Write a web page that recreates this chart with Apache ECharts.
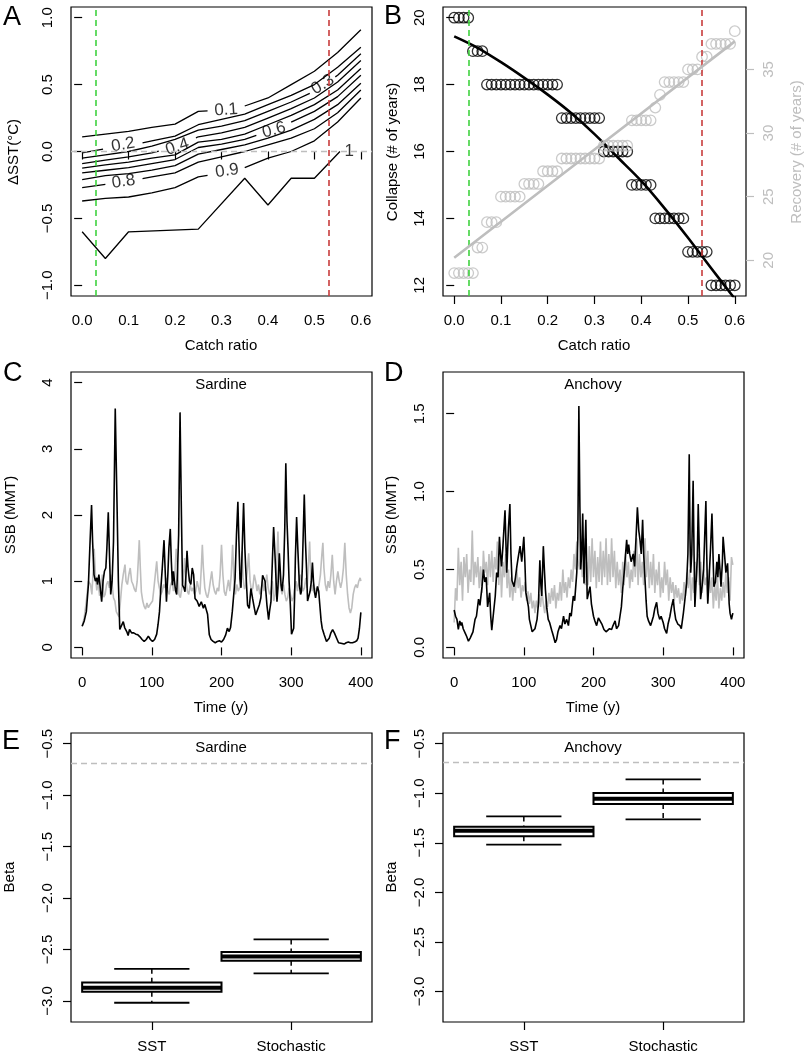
<!DOCTYPE html>
<html><head><meta charset="utf-8">
<script src="https://cdn.jsdelivr.net/npm/echarts/dist/echarts.min.js"></script>
<style>html,body{margin:0;padding:0;background:#fff}#c{width:807px;height:1059px}</style>
</head><body><div id="c"></div>
<script>
// ---------------- DATA ----------------
// Panel A: contour lines of collapse probability (x = catch ratio, y = ΔSST), '-' = gap for inline label
const contour01 = [[0,0.11],[0.05,0.13],[0.1,0.15],[0.15,0.18],[0.2,0.205],[0.25,0.30],[0.27,0.303],'-',[0.35,0.34],[0.4,0.40],[0.45,0.50],[0.5,0.60],[0.55,0.74],[0.6,0.91]];
const contour02 = [[0,-0.01],[0.045,0.017],'-',[0.13,0.065],[0.15,0.08],[0.2,0.115],[0.25,0.20],[0.3,0.24],[0.35,0.28],[0.4,0.35],[0.45,0.42],[0.5,0.50],[0.55,0.63],[0.6,0.78]];
const contour03 = [[0,-0.05],[0.05,-0.025],[0.1,0.0],[0.15,0.04],[0.2,0.09],[0.25,0.16],[0.3,0.19],[0.35,0.23],[0.4,0.30],[0.45,0.37],[0.49,0.434],'-',[0.545,0.558],[0.55,0.57],[0.6,0.73]];
const contour04 = [[0,-0.09],[0.05,-0.065],[0.1,-0.04],[0.15,-0.01],[0.165,0.002],'-',[0.245,0.102],[0.25,0.11],[0.3,0.14],[0.35,0.18],[0.4,0.25],[0.45,0.32],[0.5,0.40],[0.55,0.52],[0.6,0.68]];
const contour05 = [[0,-0.125],[0.05,-0.10],[0.1,-0.08],[0.15,-0.05],[0.2,-0.025],[0.25,0.07],[0.3,0.09],[0.35,0.13],[0.4,0.20],[0.45,0.27],[0.5,0.35],[0.55,0.46],[0.6,0.62]];
const contour06 = [[0,-0.16],[0.05,-0.14],[0.1,-0.12],[0.15,-0.09],[0.2,-0.06],[0.25,0.03],[0.3,0.055],[0.35,0.09],[0.375,0.12],'-',[0.45,0.22],[0.5,0.30],[0.55,0.41],[0.6,0.57]];
const contour07 = [[0,-0.21],[0.05,-0.18],[0.1,-0.165],[0.15,-0.14],[0.2,-0.105],[0.25,-0.02],[0.3,0.015],[0.35,0.05],[0.4,0.10],[0.45,0.16],[0.5,0.24],[0.55,0.35],[0.6,0.51]];
const contour08 = [[0,-0.27],[0.05,-0.245],'-',[0.13,-0.202],[0.15,-0.19],[0.2,-0.16],[0.25,-0.08],[0.3,-0.04],[0.35,0.0],[0.4,0.05],[0.45,0.10],[0.5,0.17],[0.55,0.29],[0.6,0.46]];
const contour09 = [[0,-0.37],[0.05,-0.35],[0.1,-0.34],[0.15,-0.31],[0.2,-0.27],[0.25,-0.19],[0.27,-0.178],'-',[0.35,-0.12],[0.4,-0.05],[0.45,0.0],[0.5,0.08],[0.55,0.22],[0.6,0.40]];
const contour10 = [[0,-0.6],[0.05,-0.8],[0.1,-0.6],[0.25,-0.58],[0.35,-0.2],[0.4,-0.4],[0.45,-0.2],[0.5,-0.2],[0.555,0.0]];
// contour labels: text, x, y, rotation(deg)
const contourLabelText = ['0.1','0.2','0.3','0.4','0.6','0.8','0.9','1'];
const contourLabelX    = [0.31, 0.088, 0.518, 0.205, 0.413, 0.089, 0.312, 0.575];
const contourLabelY    = [0.31, 0.05, 0.50, 0.035, 0.16, -0.225, -0.145, 0.0];
const contourLabelRot  = [4, 10, 32, 18, 15, 8, 8, 0];
const catchLow = 0.027, catchHigh = 0.531;

// Panel B
const collapseYears = [20,20,20,20,19,19,19,
  18,18,18,18,18,18,18,18,18,18,18,18,18,18,18,18,
  17,17,17,17,17,17,17,17,17,
  16,16,16,16,16,16,
  15,15,15,15,15,
  14,14,14,14,14,14,14,
  13,13,13,13,13,
  12,12,12,12,12,12];
const recoveryYears = [19,19,19,19,19,21,21,23,23,23,25,25,25,25,25,26,26,26,26,27,27,27,27,
  28,28,28,28,28,28,28,28,28,29,29,29,29,29,29,31,31,31,31,31,32,33,34,34,34,34,34,35,35,35,36,36,37,37,37,37,37,38];
const collapseFit = [[0,19.44],[0.05,19.1],[0.1,18.67],[0.15,18.2],[0.2,17.7],[0.25,17.15],[0.3,16.52],[0.35,15.82],[0.4,15.12],[0.45,14.3],[0.5,13.42],[0.55,12.5],[0.6,11.6]];
const recoveryFit = [[0,20.2],[0.3,28.7],[0.6,37.2]];

// Panel C: Sardine SSB
const sardineSST = [[0,0.32],[3,0.4],[6,0.54],[9,0.95],[11,1.5],[13.5,2.15],[15,1.6],[17,1.1],[19,1.0],[21,1.05],[22,0.95],[24,1.1],[26,0.9],[28,0.69],[30,1.0],[32,1.15],[34,1.2],[35.5,1.5],[37.5,2.04],[39.5,1.3],[41,0.8],[43,1.0],[45,1.6],[47.5,3.61],[50,2.2],[52,1.0],[54,0.27],[56,0.3],[59,0.39],[61,0.3],[64,0.24],[66,0.18],[68,0.27],[71,0.22],[74,0.22],[77,0.2],[80,0.19],[83,0.16],[86,0.12],[89,0.09],[92,0.12],[95,0.17],[98,0.12],[101,0.09],[104,0.12],[107,0.2],[109,0.35],[111,0.54],[113,0.9],[115,1.2],[117.5,1.62],[119,1.2],[121,0.69],[123,1.1],[124.5,1.5],[126.5,1.79],[128,1.3],[129.5,0.94],[131,1.15],[132.5,1.0],[134,0.86],[135.7,0.8],[137,1.2],[138.5,1.7],[140.5,3.55],[142.5,2.0],[144,0.94],[146,0.9],[147.6,0.84],[149,1.1],[150.5,1.46],[152,1.2],[154,1.0],[156,0.95],[158,1.2],[160,1.1],[162,0.74],[165,0.7],[168,0.62],[171,0.69],[174,0.59],[176,0.65],[178.5,0.64],[180,0.5],[182.5,0.19],[185,0.12],[188,0.09],[191,0.07],[194,0.09],[197,0.1],[200,0.08],[203,0.12],[206,0.19],[208.5,0.29],[211,0.24],[213,0.3],[215.5,0.54],[219.5,1.04],[221.5,1.7],[223.5,2.2],[225,1.6],[226.5,1.04],[228,0.9],[230,1.6],[231.7,2.18],[233.5,1.5],[235,1.14],[237.4,0.64],[239.8,0.59],[242.2,0.89],[244.6,0.74],[247,0.6],[249,0.49],[251.8,0.52],[254.2,0.64],[256.5,0.75],[259,1.09],[261,1.1],[262.5,1.0],[265.2,0.64],[267.6,0.42],[269,0.55],[271,0.69],[273,1.3],[274.8,1.82],[277,1.34],[279.6,0.69],[281,0.9],[283,1.42],[285.5,0.94],[287,0.85],[289,1.1],[290.8,1.8],[292.3,2.78],[294,1.9],[295.5,1.49],[297,1.0],[298.8,0.64],[300.5,0.2],[301.5,0.17],[303.6,0.29],[305,0.8],[306,1.34],[307.8,1.97],[309.5,1.5],[311.8,0.94],[313.5,0.8],[314.6,0.84],[316,1.2],[318.8,2.31],[320.5,1.6],[322,1.19],[323.5,0.7],[325,0.69],[327,0.84],[329,1.0],[330.5,1.28],[332,1.0],[333.4,0.84],[335,0.75],[337.7,0.92],[339.5,0.85],[341.1,0.64],[343,0.4],[344.5,0.29],[347.4,0.19],[350.7,0.09],[352.5,0.1],[354.6,0.14],[357,0.22],[359.5,0.27],[362,0.22],[364,0.19],[366,0.12],[368,0.07],[370,0.05],[373,0.06],[376,0.05],[379,0.07],[382,0.08],[385,0.07],[388,0.07],[391,0.08],[394,0.1],[396,0.14],[398,0.29],[400,0.53]];
const sardineStochastic = [[0,0.32],[3,0.45],[6,0.7],[9,1.0],[12,0.95],[14,0.8],[16,1.2],[17.3,1.49],[19,1.1],[21,0.86],[23,1.0],[25,0.78],[27,0.9],[29,1.1],[31,0.76],[33,0.8],[35,0.95],[37,1.0],[39,0.9],[41,1.1],[43,0.95],[45,0.75],[47,0.7],[49,0.54],[51,0.5],[53,0.46],[55,0.7],[57,0.95],[59,1.1],[61.5,1.25],[63,1.0],[65,0.95],[67,1.1],[69,1.2],[71,1.0],[73,0.95],[75,0.88],[77,0.84],[79,1.0],[80.5,1.3],[82,1.62],[83.5,1.2],[85,0.84],[87,0.7],[89,0.62],[91,0.58],[93,0.67],[95,0.6],[97,0.64],[99,0.62],[101,0.7],[103,0.89],[105,1.1],[107,1.3],[109,1.0],[111,0.89],[113,0.8],[115,0.85],[117,0.95],[119,0.9],[121,1.05],[123,0.85],[125,0.8],[127,0.95],[129,1.0],[131,0.85],[133,1.1],[135,1.49],[137,1.2],[139,0.8],[141,0.75],[143,0.9],[145,1.0],[147,1.35],[149,1.0],[151,0.85],[153,0.8],[155,0.95],[157,0.85],[159,0.9],[161,0.8],[163,0.85],[165,1.0],[167,0.9],[169,0.8],[171,1.2],[172.5,1.55],[174,1.2],[176,0.9],[178,0.8],[180,0.75],[182,0.85],[184,1.0],[186,1.15],[188,0.95],[190,0.85],[192,0.8],[194,0.9],[196,0.85],[198,1.1],[200,1.55],[202,1.1],[204,0.84],[206,0.78],[208,0.9],[210,1.02],[212,0.85],[214,1.1],[216,1.55],[218,1.0],[220,0.8],[222,0.95],[224,0.85],[226,0.9],[228,1.2],[229.5,1.45],[231,1.05],[233,0.88],[235,0.95],[237,1.15],[239,1.42],[241,1.0],[243,0.85],[245,0.9],[247,1.1],[249,1.0],[251,0.85],[253,0.95],[255,0.8],[257,0.9],[259,1.0],[261,0.85],[263,0.95],[265,1.1],[267,0.9],[269,0.8],[271,0.85],[273,1.0],[275,0.7],[277,0.8],[279,1.2],[281,1.75],[283,1.1],[285,0.9],[287,0.8],[289,0.95],[291,0.8],[293,0.7],[295,0.75],[297,0.9],[299,0.8],[301,0.7],[303,0.75],[305,0.9],[307,1.0],[309,0.85],[311,1.0],[313,1.1],[315,0.95],[317,0.85],[319,0.9],[321,1.05],[323,0.9],[325,1.3],[326.5,1.6],[328,1.1],[330,0.85],[332,0.95],[334,0.8],[336,0.9],[338,0.85],[340,0.95],[342,1.1],[344,1.4],[345.5,1.58],[347,1.2],[349,0.95],[351,0.85],[353,1.0],[355,0.9],[357,1.1],[359,1.4],[361,1.0],[363,0.8],[365,1.0],[367,1.15],[369,1.0],[371,0.9],[373,1.0],[375,1.2],[377,1.58],[379,1.1],[381,0.8],[383,0.6],[385,0.52],[387,0.6],[389,0.8],[391,0.9],[393,0.95],[395,0.9],[397,1.0],[399,1.05],[400,1.0]];

// Panel D: Anchovy SSB
const anchovySST = [[0,0.24],[2,0.2],[4,0.18],[6,0.115],[8,0.17],[10,0.14],[11,0.16],[13,0.12],[16,0.09],[18,0.07],[20.5,0.04],[23,0.06],[25,0.07],[27,0.1],[30,0.18],[32,0.2],[35,0.31],[37,0.27],[40,0.39],[42,0.5],[44,0.42],[46,0.45],[48,0.26],[51,0.35],[52.5,0.2],[54,0.11],[56,0.2],[59,0.33],[61,0.48],[63,0.45],[65,0.71],[66.5,0.6],[68,0.52],[70,0.65],[73,0.88],[75.5,0.48],[78,0.77],[80,0.92],[81.5,0.6],[83,0.43],[86,0.39],[88,0.45],[90,0.52],[92,0.58],[94.6,0.65],[97,0.55],[100,0.71],[101.5,0.55],[103,0.35],[105,0.3],[106.6,0.26],[108,0.18],[110,0.14],[112,0.1],[114,0.09],[116,0.12],[117.6,0.11],[119,0.18],[121,0.28],[123,0.56],[124.5,0.4],[125.7,0.33],[128,0.65],[129.5,0.5],[131,0.37],[133,0.25],[135,0.18],[137,0.16],[140,0.11],[142,0.08],[145,0.03],[147,0.05],[149,0.1],[152,0.14],[154,0.12],[157,0.2],[159,0.15],[161.5,0.18],[164,0.14],[166,0.22],[168,0.2],[171,0.33],[173,0.3],[176,0.48],[177.5,0.7],[179,1.55],[180.5,0.9],[181.6,0.5],[183,0.6],[184.5,0.86],[186.4,0.41],[187.5,0.6],[189,0.82],[191,0.31],[193,0.35],[195,0.39],[197,0.28],[200,0.2],[202,0.17],[204.5,0.14],[207,0.19],[209,0.2],[212,0.15],[215,0.115],[218,0.1],[220,0.09],[223,0.12],[226,0.115],[228,0.14],[231,0.17],[233,0.12],[236,0.14],[238,0.2],[240,0.26],[242,0.38],[244,0.48],[246,0.6],[247.6,0.69],[249,0.6],[250.5,0.66],[252,0.6],[254,0.55],[257,0.6],[259,0.52],[261,0.7],[263,0.9],[265,0.75],[266.7,0.69],[268.5,0.6],[270.5,0.82],[272,0.6],[274,0.43],[275.5,0.3],[277,0.2],[279,0.17],[282,0.14],[284,0.17],[286,0.2],[288,0.25],[290.6,0.29],[292.5,0.22],[295,0.18],[297,0.2],[300,0.16],[302,0.12],[305,0.09],[307,0.15],[309.7,0.2],[312,0.26],[314.5,0.31],[316,0.24],[318,0.18],[321,0.15],[324,0.14],[326,0.12],[329,0.22],[331,0.3],[333.6,0.41],[335.5,0.6],[337.4,1.24],[338.5,0.7],[339.5,0.48],[341,0.6],[343,1.07],[344.3,0.6],[345.5,0.26],[347,0.4],[349,0.58],[350.3,0.92],[352,0.6],[353.7,0.31],[356,0.4],[358,0.5],[359.5,0.7],[361.3,0.94],[362.5,0.6],[364,0.28],[366,0.45],[368,0.64],[370,0.86],[371.5,0.6],[372.8,0.39],[375,0.42],[377,0.55],[378.5,0.45],[380,0.6],[381.5,0.5],[383,0.39],[385,0.55],[386,0.71],[388,0.6],[390,0.48],[392.4,0.54],[394.7,0.28],[396,0.22],[398,0.18],[400,0.22]];
// anchovy stochastic run, one value every 2 years from year 0 to 400
const anchovyStochastic = [0.16,0.38,0.3,0.64,0.4,0.55,0.3,0.58,0.45,0.6,0.35,0.5,0.42,0.75,0.4,0.55,0.45,0.58,0.38,0.52,
 0.35,0.62,0.48,0.55,0.4,0.6,0.45,0.62,0.42,0.58,0.5,0.68,0.4,0.6,0.32,0.55,0.45,0.6,0.38,0.5,
 0.32,0.45,0.3,0.42,0.35,0.5,0.38,0.45,0.32,0.4,0.36,0.42,0.3,0.36,0.28,0.35,0.25,0.3,0.22,0.3,
 0.25,0.34,0.26,0.36,0.28,0.22,0.3,0.26,0.35,0.28,0.38,0.3,0.4,0.25,0.35,0.3,0.42,0.3,0.5,0.35,
 0.42,0.32,0.45,0.38,0.5,0.42,0.6,0.5,0.68,0.55,0.5,0.62,0.45,0.7,0.4,0.55,0.4,0.65,0.42,0.7,
 0.45,0.62,0.38,0.58,0.42,0.68,0.4,0.62,0.45,0.7,0.4,0.6,0.42,0.7,0.45,0.62,0.38,0.55,0.4,0.5,
 0.35,0.55,0.4,0.6,0.45,0.55,0.38,0.5,0.42,0.62,0.45,0.7,0.4,0.6,0.45,0.55,0.4,0.7,0.45,0.62,
 0.38,0.55,0.4,0.6,0.35,0.5,0.4,0.55,0.32,0.45,0.35,0.55,0.4,0.5,0.3,0.45,0.35,0.42,0.3,0.4,
 0.32,0.38,0.28,0.35,0.3,0.42,0.33,0.48,0.38,0.5,0.3,0.45,0.35,0.55,0.42,0.6,0.4,0.55,0.35,0.5,
 0.4,0.45,0.3,0.5,0.35,0.45,0.25,0.4,0.3,0.45,0.25,0.38,0.3,0.42,0.32,0.48,0.35,0.45,0.3,0.58,0.53];

// Panels E/F: Beta boxplots [lower whisker, Q1, median, Q3, upper whisker]
const boxCategories = ['SST','Stochastic'];
const sardineBetaSST = [-3.017,-2.910,-2.871,-2.820,-2.687];
const sardineBetaStochastic = [-2.732,-2.609,-2.567,-2.524,-2.402];
const anchovyBetaSST = [-1.519,-1.435,-1.378,-1.337,-1.234];
const anchovyBetaStochastic = [-1.264,-1.108,-1.055,-0.997,-0.860];
const betaReference = -0.69;

// tick values
const catchTicks = [0,0.1,0.2,0.3,0.4,0.5,0.6];
const sstTicks = [-1,-0.5,0,0.5,1];
const collapseTicks = [12,14,16,18,20];
const recoveryTicks = [20,25,30,35];
const timeTicks = [0,100,200,300,400];
const sardineTicks = [0,1,2,3,4];
const anchovyTicks = [0,0.5,1,1.5];
const betaTicks = [-3,-2.5,-2,-1.5,-1,-0.5];

// ---------------- STYLE / LAYOUT ----------------
const FONT = '"Liberation Sans", Arial, Helvetica, sans-serif';
const FS = 15;
const GRAY = '#bebebe', GREEN = '#3fd23f', RED = '#c83c3c';
const grids = [
  {left:71, top:7, width:301, height:289},
  {left:443, top:7, width:303, height:289},
  {left:71, top:372, width:301, height:286},
  {left:443, top:372, width:301, height:286},
  {left:71, top:733, width:301, height:289},
  {left:443, top:733, width:301, height:289}
].map(g => Object.assign({show:true, borderColor:'#000', borderWidth:1.2, backgroundColor:'transparent', containLabel:false}, g));

const minus = s => s.replace('-', '\u2212');
const f1 = v => minus((Math.round(v*10)/10).toFixed(1));
const f0 = v => minus(String(v));

function axis(gridIndex, min, max, ticks, fmt, extra) {
  const color = (extra && extra.color) || '#000';
  const a = {
    type:'value', gridIndex, min, max,
    axisLine:{show:false},
    splitLine:{show:false},
    axisTick:{show:true, inside:false, length:8, customValues:ticks, lineStyle:{color, width:1.2}},
    axisLabel:{show:true, customValues:ticks, formatter:fmt, color, fontFamily:FONT, fontSize:FS, margin:17}
  };
  if (extra) {
    if (extra.position) a.position = extra.position;
    if (extra.rotate != null) a.axisLabel.rotate = extra.rotate;
    if (extra.margin != null) a.axisLabel.margin = extra.margin;
  }
  return a;
}

const xAxes = [
  axis(0, -0.024, 0.624, catchTicks, f1),
  axis(1, -0.024, 0.624, catchTicks, f1),
  axis(2, -16, 416, timeTicks, f0),
  axis(3, -16, 416, timeTicks, f0),
  axis(4, 0.42, 2.58, [1,2], v => boxCategories[Math.round(v)-1]),
  axis(5, 0.42, 2.58, [1,2], v => boxCategories[Math.round(v)-1])
];
const yAxes = [
  axis(0, -1.08, 1.08, sstTicks, f1, {rotate:90, margin:16}),
  axis(1, 11.68, 20.32, collapseTicks, f0, {rotate:90, margin:16}),
  axis(1, 17.2, 39.9, recoveryTicks, f0, {rotate:90, margin:15, position:'right', color:GRAY}),
  axis(2, -0.16, 4.16, sardineTicks, f0, {rotate:90, margin:16}),
  axis(3, -0.068, 1.768, anchovyTicks, f1, {rotate:90, margin:16}),
  axis(4, -3.204, -0.396, betaTicks, f1, {rotate:90, margin:16}),
  axis(5, -3.308, -0.392, betaTicks, f1, {rotate:90, margin:16})
];

const dashed = (color, width) => ({color, width, type:[6,4]});
const vlines = [
  {xAxis:catchLow, lineStyle:dashed(GREEN,1.6)},
  {xAxis:catchHigh, lineStyle:dashed(RED,1.6)}
];
const mlBase = {silent:true, symbol:['none','none'], label:{show:false}, animation:false};

const series = [];
// Panel A
[contour01,contour02,contour03,contour04,contour05,contour06,contour07,contour08,contour09,contour10].forEach((d,i) => {
  const s = {type:'line', xAxisIndex:0, yAxisIndex:0, data:d, showSymbol:false, symbol:'none', connectNulls:false,
    lineStyle:{color:'#000', width:1.3}, z:2};
  if (i === 0) s.markLine = Object.assign({}, mlBase, {data:[
    {yAxis:0, lineStyle:dashed(GRAY,1.3)}, ...vlines]});
  series.push(s);
});
series.push({type:'scatter', xAxisIndex:0, yAxisIndex:0, symbolSize:0, z:3,
  data: contourLabelText.map((t,i) => ({name:t, value:[contourLabelX[i], contourLabelY[i]],
    label:{show:true, position:'inside', formatter:t, rotate:contourLabelRot[i], color:'#000', fontFamily:FONT, fontSize:FS+2}}))});

// Panel B
const catchSteps = collapseYears.map((_, i) => i / 100);
series.push({type:'scatter', xAxisIndex:1, yAxisIndex:1, symbol:'circle', symbolSize:10.5,
  itemStyle:{color:'rgba(0,0,0,0)', borderColor:'#000', borderWidth:1.3},
  data: collapseYears.map((v,i) => [catchSteps[i], v]), z:2,
  markLine: Object.assign({}, mlBase, {data: vlines})});
series.push({type:'line', xAxisIndex:1, yAxisIndex:1, data:collapseFit, symbol:'none', smooth:0.3,
  lineStyle:{color:'#000', width:2.6}, z:3});
series.push({type:'scatter', xAxisIndex:1, yAxisIndex:2, symbol:'circle', symbolSize:10.5,
  itemStyle:{color:'rgba(0,0,0,0)', borderColor:GRAY, borderWidth:1.3},
  data: recoveryYears.map((v,i) => [catchSteps[i], v]), z:4});
series.push({type:'line', xAxisIndex:1, yAxisIndex:2, data:recoveryFit, symbol:'none',
  lineStyle:{color:GRAY, width:2.6}, z:5});

// Panel C
series.push({type:'line', xAxisIndex:2, yAxisIndex:3, data:sardineStochastic, symbol:'none', lineStyle:{color:GRAY, width:1.6}});
series.push({type:'line', xAxisIndex:2, yAxisIndex:3, data:sardineSST, symbol:'none', lineStyle:{color:'#000', width:1.6}});
// Panel D
series.push({type:'line', xAxisIndex:3, yAxisIndex:4, data:anchovyStochastic.map((v,i) => [i*2, v]), symbol:'none', lineStyle:{color:GRAY, width:1.6}});
series.push({type:'line', xAxisIndex:3, yAxisIndex:4, data:anchovySST, symbol:'none', lineStyle:{color:'#000', width:1.6}});

// Panels E/F boxplots
function boxItem(params, api) {
  const x = api.value(0), lo = api.value(1), q1 = api.value(2), md = api.value(3), q3 = api.value(4), hi = api.value(5);
  const hw = 0.5, cw = 0.27;
  const tl = api.coord([x-hw, q3]), br = api.coord([x+hw, q1]);
  const mL = api.coord([x-hw, md]), mR = api.coord([x+hw, md]);
  const pHi = api.coord([x, hi]), pQ3 = api.coord([x, q3]), pQ1 = api.coord([x, q1]), pLo = api.coord([x, lo]);
  const cHiL = api.coord([x-cw, hi]), cHiR = api.coord([x+cw, hi]);
  const cLoL = api.coord([x-cw, lo]), cLoR = api.coord([x+cw, lo]);
  const wStyle = {stroke:'#000', lineWidth:1.5, lineDash:[5,4]};
  const sStyle = {stroke:'#000', lineWidth:1.8};
  return {type:'group', children:[
    {type:'line', shape:{x1:pHi[0],y1:pHi[1],x2:pQ3[0],y2:pQ3[1]}, style:wStyle},
    {type:'line', shape:{x1:pQ1[0],y1:pQ1[1],x2:pLo[0],y2:pLo[1]}, style:wStyle},
    {type:'line', shape:{x1:cHiL[0],y1:cHiL[1],x2:cHiR[0],y2:cHiR[1]}, style:sStyle},
    {type:'line', shape:{x1:cLoL[0],y1:cLoL[1],x2:cLoR[0],y2:cLoR[1]}, style:sStyle},
    {type:'rect', shape:{x:tl[0], y:tl[1], width:br[0]-tl[0], height:br[1]-tl[1]}, style:{fill:'#fff', stroke:'#000', lineWidth:2}},
    {type:'line', shape:{x1:mL[0],y1:mL[1],x2:mR[0],y2:mR[1]}, style:{stroke:'#000', lineWidth:4}}
  ]};
}
[[4,5,sardineBetaSST,sardineBetaStochastic],[5,6,anchovyBetaSST,anchovyBetaStochastic]].forEach(([xi,yi,a,b]) => {
  series.push({type:'custom', xAxisIndex:xi, yAxisIndex:yi, renderItem:boxItem,
    encode:{x:0, y:[1,2,3,4,5]},
    data:[[1, ...a],[2, ...b]],
    markLine: Object.assign({}, mlBase, {data:[{yAxis:betaReference, lineStyle:dashed(GRAY,1.3)}]})});
});

// ---------------- TEXT ----------------
const T = (text, x, y, opts) => Object.assign({type:'text', x, y, silent:true,
  style:{text, font:`${(opts&&opts.size)||FS}px ${FONT}`, fill:(opts&&opts.color)||'#000',
    textAlign:(opts&&opts.align)||'center', textVerticalAlign:'middle'}}, opts && opts.rot ? {rotation:Math.PI/2} : {});
const graphic = [
  T('A', 3, 18, {size:27, align:'left'}), T('B', 384, 17, {size:27, align:'left'}),
  T('C', 3, 374, {size:27, align:'left'}), T('D', 384, 374, {size:27, align:'left'}),
  T('E', 2, 742, {size:27, align:'left'}), T('F', 384, 742, {size:27, align:'left'}),
  T('Catch ratio', 221, 346), T('Catch ratio', 594, 346),
  T('Time (y)', 221, 708), T('Time (y)', 593, 708),
  T('\u0394SST(\u00b0C)', 14, 152, {rot:true}),
  T('Collapse (# of years)', 393, 152, {rot:true}),
  T('Recovery (# of years)', 797, 152, {rot:true, color:GRAY}),
  T('SSB (MMT)', 11, 515, {rot:true}), T('SSB (MMT)', 392, 515, {rot:true}),
  T('Beta', 10, 877, {rot:true}), T('Beta', 392, 877, {rot:true}),
  T('Sardine', 221, 385), T('Anchovy', 593, 385),
  T('Sardine', 221, 748), T('Anchovy', 593, 748)
];

const chart = echarts.init(document.getElementById('c'), null, {renderer:'canvas'});
chart.setOption({
  animation:false,
  backgroundColor:'#fff',
  grid:grids, xAxis:xAxes, yAxis:yAxes, series, graphic
});
</script></body></html>
